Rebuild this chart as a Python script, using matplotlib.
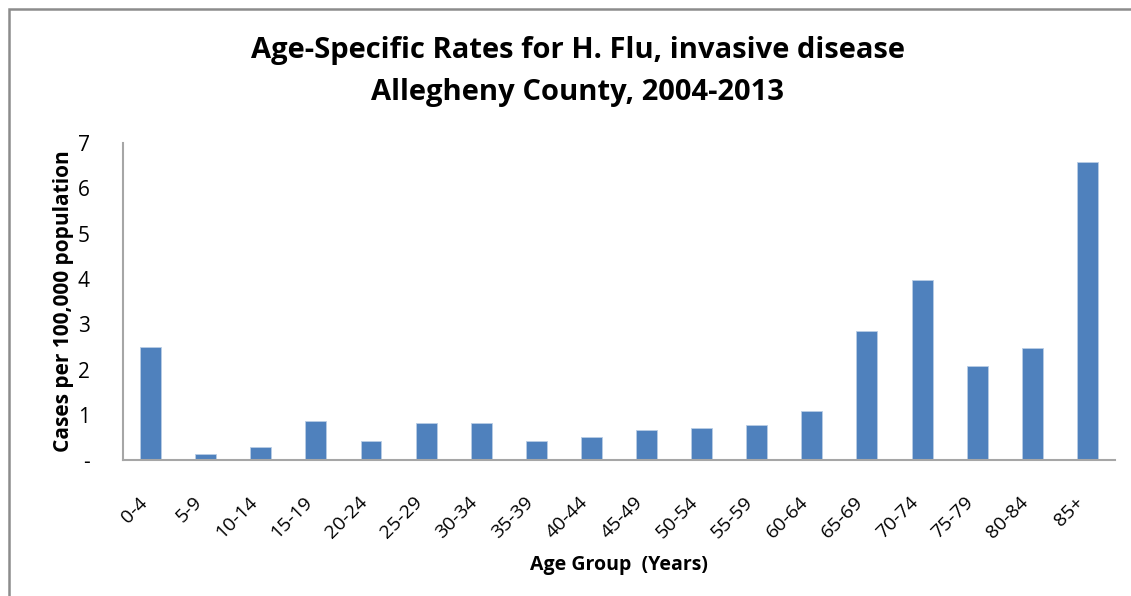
import numpy as np
import matplotlib
matplotlib.use('Agg')
import matplotlib.pyplot as plt
from matplotlib.patches import Rectangle

age_groups = ['0-4', '5-9', '10-14', '15-19', '20-24', '25-29', '30-34', '35-39', '40-44',
              '45-49', '50-54', '55-59', '60-64', '65-69', '70-74', '75-79', '80-84', '85+']
rates = [2.50, 0.14, 0.28, 0.87, 0.43, 0.82, 0.82, 0.43, 0.50,
         0.67, 0.70, 0.78, 1.09, 2.84, 3.98, 2.08, 2.48, 6.58]
yticks = [0, 1, 2, 3, 4, 5, 6, 7]
ytick_labels = ['-', '1', '2', '3', '4', '5', '6', '7']

plt.rcParams['font.family'] = ['Open Sans', 'DejaVu Sans']

fig = plt.figure(figsize=(11.31, 5.96), dpi=100)
ax = fig.add_axes([0.1088, 0.228, 0.877, 0.532])

x = np.arange(len(age_groups))
ax.bar(x, rates, width=0.38, color='#4F81BD', edgecolor='#B9CDE5', linewidth=0.6)

ax.set_xlim(-0.5, len(age_groups) - 0.5)
ax.set_ylim(0, 7)
ax.set_yticks(yticks)
ax.set_yticklabels(ytick_labels, fontsize=15)
ax.set_xticks(x)
ax.set_xticklabels(age_groups, rotation=45, ha='right', va='top', fontsize=14)
ax.tick_params(axis='y', length=0, pad=24)
ax.tick_params(axis='x', length=0, pad=24)

for s in ['top', 'right']:
    ax.spines[s].set_visible(False)
for s in ['left', 'bottom']:
    ax.spines[s].set_color('#A6A6A6')
    ax.spines[s].set_linewidth(1.5)

ax.set_ylabel('Cases per 100,000 population', fontsize=15, fontweight='bold', labelpad=3)
ax.set_xlabel('Age Group  (Years)', fontsize=14, fontweight='bold', labelpad=9)

fig.text(0.511, 0.88, 'Age-Specific Rates for H. Flu, invasive disease\nAllegheny County, 2004-2013',
         ha='center', va='center', fontsize=21, fontweight='bold', linespacing=1.6)

fig.patches.append(Rectangle((0.008, -0.05), 1.05, 1.035, transform=fig.transFigure,
                             fill=False, edgecolor='#8C8C8C', linewidth=1.8))

fig.savefig('out.png', dpi=100)
